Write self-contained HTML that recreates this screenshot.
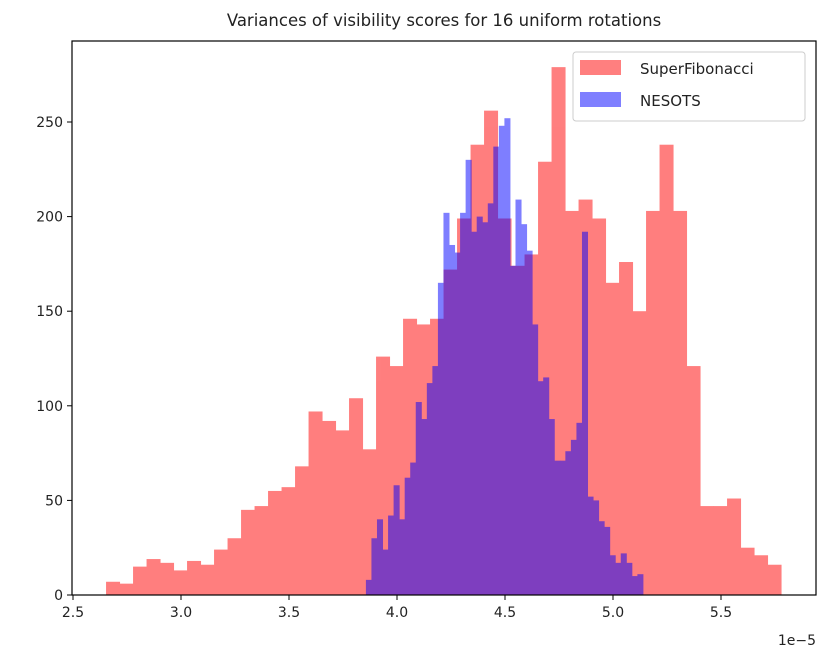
<!DOCTYPE html>
<html><head><meta charset="utf-8"><style>
body{margin:0;background:#fff;}
svg text{font-family:"DejaVu Sans","Liberation Sans",sans-serif;fill:#222;}
</style></head><body>
<svg id="chart" width="833" height="664" xmlns="http://www.w3.org/2000/svg">
<text x="444" y="26" font-size="16.5" text-anchor="middle">Variances of visibility scores for 16 uniform rotations</text>
<g id="redbars" opacity="0.5"></g>
<g id="bluebars" opacity="0.5"></g>
<g id="axes"></g>
<g>
<rect x="573" y="52" width="232" height="69" rx="3" fill="#fff" fill-opacity="0.8" stroke="#ccc"/>
<rect x="580" y="60" width="41" height="15" fill="#ff0000" fill-opacity="0.5"/>
<text x="640" y="74" font-size="15">SuperFibonacci</text>
<rect x="580" y="92" width="41" height="15" fill="#0000ff" fill-opacity="0.5"/>
<text x="640" y="106" font-size="15">NESOTS</text>
</g>
</svg>
<script>
const redStart = 2.653, redWidth = 0.0625;
const redCounts = [7,6,15,19,17,13,18,16,24,30,45,47,55,57,68,97,92,87,104,77,126,121,146,143,146,172,199,238,256,199,174,180,229,279,203,209,199,165,176,150,203,238,203,121,47,47,51,25,21,16];
const blueStart = 3.856, blueWidth = 0.02565;
const blueCounts = [8,30,40,24,42,58,40,62,70,102,93,112,121,165,202,185,181,202,230,192,200,197,207,237,248,252,174,209,196,182,143,113,115,93,71,71,76,82,91,192,52,50,39,36,21,17,22,17,10,11];
const xTicks = [2.5,3.0,3.5,4.0,4.5,5.0,5.5];
const xTickLabels = ["2.5","3.0","3.5","4.0","4.5","5.0","5.5"];
const yTicks = [0,50,100,150,200,250];

const L=72,R=816,T=41,B=595;
const X = v => 73 + (v-2.5)*216;
const Y = v => B - v*1.892;
const NS="http://www.w3.org/2000/svg";
const redG=document.getElementById('redbars'), blueG=document.getElementById('bluebars'), axes=document.getElementById('axes');
function mk(tag,attrs,parent){const e=document.createElementNS(NS,tag);for(const k in attrs)e.setAttribute(k,attrs[k]);parent.appendChild(e);return e;}
redCounts.forEach((c,i)=>{
  const x0=X(redStart+i*redWidth), x1=X(redStart+(i+1)*redWidth);
  const r=mk('rect',{x:x0,y:Y(c),width:x1-x0+0.5,height:B-Y(c),fill:'#ff0000'},redG);
  
  
});
blueCounts.forEach((c,i)=>{
  const x0=X(blueStart+i*blueWidth), x1=X(blueStart+(i+1)*blueWidth);
  const r=mk('rect',{x:x0,y:Y(c),width:x1-x0+0.5,height:B-Y(c),fill:'#0000ff'},blueG);
  
  
});
const frame=mk('rect',{x:L,y:T,width:R-L,height:B-T,fill:'none',stroke:'#000','stroke-width':1.2},axes);


xTicks.forEach((v,i)=>{
  mk('line',{x1:X(v),x2:X(v),y1:B,y2:B+5,stroke:'#000'},axes);
  const t=mk('text',{x:X(v),y:B+22,'font-size':14,'text-anchor':'middle'},axes);
  t.textContent=xTickLabels[i];
  
  
});
yTicks.forEach(v=>{
  mk('line',{x1:L-5,x2:L,y1:Y(v),y2:Y(v),stroke:'#000'},axes);
  const t=mk('text',{x:L-9,y:Y(v)+5,'font-size':14,'text-anchor':'end'},axes);
  t.textContent=String(v);
  
  
});
const off=mk('text',{x:816,y:645,'font-size':14,'text-anchor':'end'},axes);
off.textContent='1e\u22125';


</script>
</body></html>
